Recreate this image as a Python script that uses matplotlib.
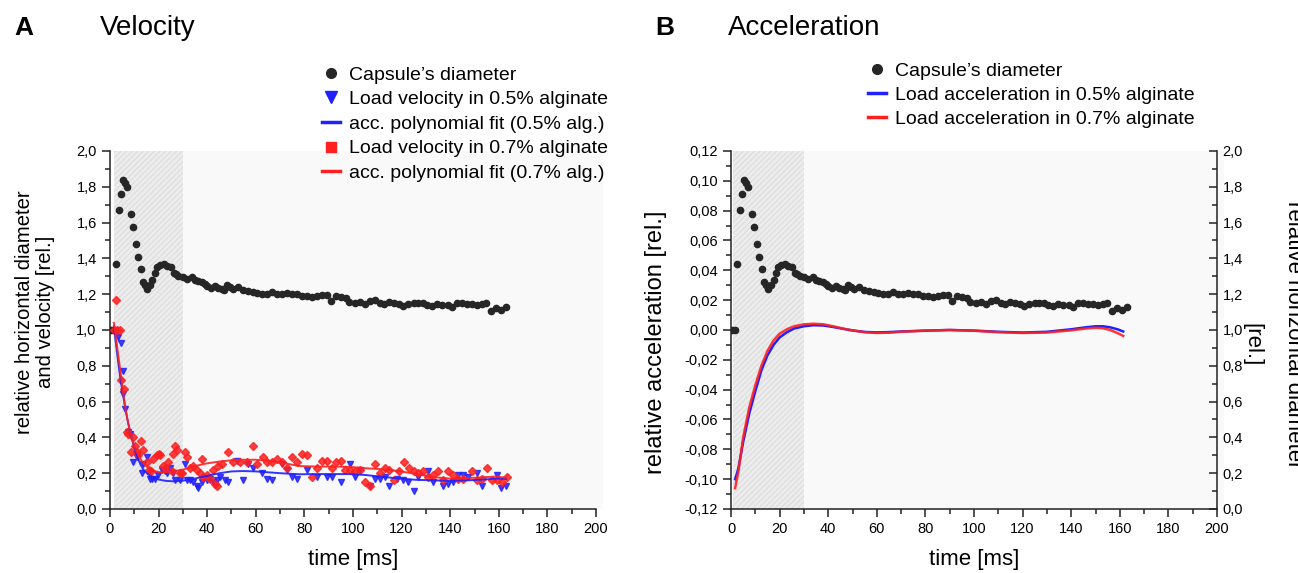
import matplotlib
matplotlib.use('Agg')
import matplotlib.pyplot as plt
from matplotlib.lines import Line2D
from matplotlib.ticker import FuncFormatter, MultipleLocator

plt.rcParams['font.family'] = ['Liberation Sans', 'DejaVu Sans']
plt.rcParams['hatch.linewidth'] = 0.6

# ---- data ----
diam_t = [0.5, 1.5, 2.5, 3.7, 4.5, 5.5, 6.2, 6.9, 8.6, 9.6,
          10.7, 11.7, 12.6, 13.7, 14.5, 15.4, 16.4, 17.5, 18.5, 19.5,
          20.5, 22.2, 23.6, 25.0, 26.3, 27.2, 28.2,
          30.2, 31.8, 33.6, 35.0, 36.3, 37.7, 39.1, 40.0, 41.4, 43.2,
          44.6, 45.9, 46.9, 48.0, 49.4, 50.7, 52.7, 54.9, 56.9, 58.7,
          60.6, 62.4, 64.5, 66.5, 68.6, 70.6, 72.7, 74.8, 76.8, 78.9,
          80.9, 83.0, 85.0, 87.1, 89.2, 90.9, 93.0, 94.9, 97.1, 98.5,
          100.8, 102.9, 104.9, 107.0, 109.1, 111.1, 112.8, 115.0, 116.9, 118.8,
          120.7, 122.8, 124.9, 126.9, 129.0, 130.6, 132.7, 134.7, 136.8, 138.9,
          140.9, 142.7, 144.7, 146.8, 148.8, 150.9, 153.0, 154.7, 156.7, 158.9,
          160.9, 163.0]
diameter = [1.0, 1.0, 1.37, 1.67, 1.76, 1.84, 1.82, 1.80, 1.65, 1.575,
            1.48, 1.41, 1.34, 1.27, 1.25, 1.23, 1.25, 1.28, 1.32, 1.35,
            1.365, 1.37, 1.36, 1.35, 1.32, 1.31, 1.30,
            1.294, 1.283, 1.294, 1.279, 1.275, 1.270, 1.257, 1.246, 1.236, 1.246,
            1.236, 1.227, 1.223, 1.251, 1.242, 1.229, 1.242, 1.223, 1.220, 1.214,
            1.205, 1.201, 1.201, 1.212, 1.203, 1.199, 1.205, 1.199, 1.199, 1.188,
            1.192, 1.186, 1.192, 1.194, 1.194, 1.164, 1.190, 1.184, 1.179, 1.158,
            1.153, 1.158, 1.143, 1.164, 1.168, 1.153, 1.145, 1.158, 1.153, 1.145,
            1.134, 1.145, 1.149, 1.149, 1.149, 1.140, 1.134, 1.145, 1.140, 1.140,
            1.127, 1.149, 1.149, 1.145, 1.143, 1.140, 1.145, 1.153, 1.108, 1.125,
            1.112, 1.127]

vel05_t = [3.4, 4.4, 5.2, 5.5, 6.2, 7.5, 8.2, 9.6, 11.0, 13.0,
           13.7, 15.1, 16.5, 17.4, 18.5, 19.9, 21.3, 22.6, 23.3, 24.7,
           25.8, 26.7, 28.8, 30.9, 31.6, 32.9, 34.3, 35.7, 36.4, 37.7,
           39.8, 41.2, 42.5, 43.9, 45.3, 47.3, 48.7, 52.1, 54.9, 56.9,
           59.0, 62.4, 64.5, 66.5, 70.6, 72.7, 74.8, 76.8,
           80.9, 85.0, 89.2, 91.2, 94.9, 98.8, 100.8, 102.9, 107.0, 109.1,
           111.1, 113.2, 115.0, 118.0, 120.7, 122.8, 124.9, 126.9, 131.0, 133.1,
           136.9, 139.2, 141.3, 143.4, 145.4, 147.5, 150.9, 153.0, 159.1, 160.9,
           163.0]
vel05 = [0.96, 0.93, 0.77, 0.64, 0.56, 0.43, 0.42, 0.26, 0.29, 0.20,
         0.25, 0.29, 0.17, 0.17, 0.17, 0.19, 0.22, 0.21, 0.20, 0.23,
         0.20, 0.16, 0.16, 0.25, 0.16, 0.16, 0.15, 0.13, 0.12, 0.15,
         0.16, 0.17, 0.15, 0.16, 0.18, 0.16, 0.15, 0.27, 0.16, 0.25,
         0.23, 0.20, 0.17, 0.16, 0.25, 0.22, 0.18, 0.17,
         0.22, 0.18, 0.18, 0.18, 0.15, 0.25, 0.18, 0.22, 0.13, 0.17,
         0.17, 0.18, 0.13, 0.17, 0.16, 0.15, 0.10, 0.18, 0.21, 0.15,
         0.13, 0.14, 0.15, 0.19, 0.19, 0.18, 0.20, 0.13, 0.19, 0.12,
         0.13]

vel07_t = [1.6, 2.5, 3.0, 4.1, 4.4, 5.8, 6.9, 7.5, 8.6, 9.3,
           10.3, 11.0, 11.7, 12.8, 13.4, 15.1, 16.2, 16.7, 17.8, 19.2,
           20.3, 20.8, 21.7, 22.6, 24.0, 25.4, 26.1, 26.7, 27.4, 28.8,
           29.5, 30.9, 31.8, 32.9, 34.3, 35.7, 37.0, 37.7, 38.4, 39.8,
           41.2, 42.5, 43.2, 43.9, 44.6, 45.9, 48.7, 50.7, 53.5, 56.2,
           58.7, 60.4, 62.8, 64.5, 66.5, 68.6, 70.6, 72.7, 74.8, 76.8,
           78.9, 80.9, 83.0, 85.0, 87.1, 89.2, 91.2, 93.0, 94.9, 96.7,
           98.8, 100.8, 102.9, 104.9, 107.0, 109.1, 111.1, 113.2, 115.0, 116.9,
           119.1, 121.0, 123.2, 124.9, 126.9, 129.0, 131.0, 133.1, 135.1, 137.2,
           139.2, 141.3, 143.4, 145.4, 148.8, 150.9, 153.0, 155.0, 157.1, 159.1,
           161.2, 163.3]
vel07 = [1.0, 1.17, 1.0, 1.0, 0.72, 0.67, 0.43, 0.42, 0.32, 0.40,
         0.35, 0.32, 0.30, 0.38, 0.33, 0.26, 0.22, 0.21, 0.28, 0.30,
         0.31, 0.30, 0.24, 0.23, 0.26, 0.21, 0.31, 0.35, 0.33, 0.20,
         0.20, 0.32, 0.29, 0.23, 0.24, 0.22, 0.20, 0.28, 0.18, 0.19,
         0.17, 0.22, 0.14, 0.13, 0.24, 0.25, 0.32, 0.26, 0.26, 0.26,
         0.35, 0.25, 0.29, 0.26, 0.26, 0.28, 0.26, 0.23, 0.29, 0.26,
         0.31, 0.30, 0.18, 0.23, 0.27, 0.27, 0.23, 0.26, 0.27, 0.22,
         0.22, 0.21, 0.22, 0.15, 0.13, 0.25, 0.20, 0.23, 0.22, 0.16,
         0.21, 0.26, 0.23, 0.21, 0.20, 0.21, 0.18, 0.19, 0.21, 0.16,
         0.21, 0.19, 0.17, 0.17, 0.21, 0.16, 0.17, 0.23, 0.16, 0.16,
         0.15, 0.18]

fit_t = [1.6, 2.5, 3.5, 4.5, 5.5, 6.5, 7.5, 8.5, 9.5, 11,
         12.5, 14, 16, 18, 20, 23, 26, 30, 35, 40,
         45, 50, 55, 60, 65, 70, 78, 85, 92, 99,
         105, 112, 119, 126, 133, 140, 147, 154, 159, 163]
fit05 = [1.02, 0.92, 0.81, 0.71, 0.63, 0.55, 0.48, 0.42, 0.37, 0.30,
         0.25, 0.215, 0.19, 0.175, 0.165, 0.157, 0.155, 0.158, 0.17, 0.185,
         0.20, 0.21, 0.212, 0.21, 0.205, 0.20, 0.194, 0.195, 0.195, 0.195,
         0.19, 0.18, 0.17, 0.163, 0.16, 0.158, 0.16, 0.165, 0.17, 0.168]
fit07 = [1.04, 0.95, 0.85, 0.75, 0.64, 0.55, 0.48, 0.42, 0.37, 0.32,
         0.28, 0.25, 0.228, 0.213, 0.206, 0.205, 0.21, 0.22, 0.24, 0.255,
         0.265, 0.272, 0.275, 0.275, 0.27, 0.26, 0.24, 0.237, 0.237, 0.235,
         0.228, 0.222, 0.212, 0.195, 0.178, 0.17, 0.172, 0.178, 0.181, 0.175]

acc_t = [1.7, 3, 5, 7.5, 10, 12.5, 15, 17.5, 20, 23,
         26, 30, 34, 38, 42, 46, 50, 55, 60, 65,
         70, 80, 90, 100, 110, 120, 130, 140, 146, 150,
         153, 156, 159, 161.4]
acc05 = [-0.100, -0.093, -0.075, -0.056, -0.041, -0.027, -0.017, -0.010, -0.005, -0.0015,
         0.001, 0.0025, 0.0032, 0.003, 0.002, 0.0008, -0.0003, -0.0013, -0.0016, -0.0014,
         -0.0010, -0.0004, 0.0, -0.0004, -0.0012, -0.0017, -0.0012, 0.0005, 0.0018, 0.0025,
         0.0025, 0.0018, 0.0005, -0.001]
acc07 = [-0.106, -0.095, -0.072, -0.052, -0.037, -0.024, -0.014, -0.007, -0.0025, 0.0005,
         0.0025, 0.0038, 0.0042, 0.0038, 0.0025, 0.001, -0.0003, -0.0015, -0.002, -0.0018,
         -0.0012, -0.0005, 0.0, -0.0005, -0.0015, -0.002, -0.0017, -0.0002, 0.0010, 0.0015,
         0.0012, 0.0, -0.002, -0.004]

c_dot = '#262626'
c_blue = '#2020ff'
c_red = '#ff2020'


def comma_fmt(nd):
    def f(v, pos):
        if abs(v) < 1e-9:
            v = 0.0
        return ('{:.%df}' % nd).format(v).replace('.', ',')
    return FuncFormatter(f)


def style_axes(ax, right=False):
    for side in ('top', 'right'):
        ax.spines[side].set_visible(False)
    for sp in ax.spines.values():
        sp.set_linewidth(1.1)
        sp.set_color('#222222')
    ax.tick_params(which='major', direction='out', length=6, width=1.1,
                   labelsize=10.5, color='#222222')
    ax.tick_params(which='minor', direction='out', length=3.5, width=1.1,
                   color='#222222')
    ax.set_xlim(0, 200)
    ax.xaxis.set_major_locator(MultipleLocator(20))
    ax.xaxis.set_minor_locator(MultipleLocator(10))
    ax.xaxis.set_major_formatter(comma_fmt(0))
    ax.set_facecolor('none')


def background(ax, x0):
    ax.axvspan(x0, 203, facecolor='#f9f9f9', edgecolor='none', zorder=0,
               clip_on=False)
    ax.axvspan(x0, 30, facecolor='#ececec', edgecolor='#d9d9d9', hatch='//////',
               linewidth=0, zorder=0.5)


fig = plt.figure(figsize=(12.98, 5.73), dpi=100)

# ---- panel A ----
axA = fig.add_axes([0.0847, 0.1117, 0.3745, 0.6248])
style_axes(axA)
background(axA, 1.5)
axA.set_ylim(0, 2.0)
axA.yaxis.set_major_locator(MultipleLocator(0.2))
axA.yaxis.set_minor_locator(MultipleLocator(0.1))
axA.yaxis.set_major_formatter(comma_fmt(1))

axA.plot(diam_t, diameter, ls='none', marker='o', ms=4.5, color=c_dot, zorder=3)
axA.plot(vel05_t, vel05, ls='none', marker='v', ms=5, color=c_blue, alpha=0.85,
         zorder=3)
axA.plot(vel07_t, vel07, ls='none', marker='D', ms=4, color=c_red, alpha=0.85,
         zorder=3)
axA.plot(fit_t, fit05, color=c_blue, lw=1.4, alpha=0.9, zorder=4)
axA.plot(fit_t, fit07, color=c_red, lw=1.4, alpha=0.9, zorder=4)
axA.set_xlabel('time [ms]', fontsize=16, labelpad=9)

# ---- panel B ----
axB = fig.add_axes([0.5632, 0.1117, 0.3744, 0.6248])
style_axes(axB)
background(axB, 0.8)
axB.set_ylim(-0.12, 0.12)
axB.yaxis.set_major_locator(MultipleLocator(0.02))
axB.yaxis.set_minor_locator(MultipleLocator(0.01))
axB.yaxis.set_major_formatter(comma_fmt(2))
axB.plot(acc_t, acc05, color=c_blue, lw=1.8, zorder=4)
axB.plot(acc_t, acc07, color=c_red, lw=1.8, alpha=0.9, zorder=4)
axB.set_xlabel('time [ms]', fontsize=16, labelpad=9)

# diameter on a right-hand axis, ticks pointing inward
axB2 = axB.twinx()
axB2.set_ylim(0, 2.0)
axB2.yaxis.set_major_locator(MultipleLocator(0.2))
axB2.yaxis.set_minor_locator(MultipleLocator(0.1))
axB2.yaxis.set_major_formatter(comma_fmt(1))
for side in ('top', 'left', 'bottom'):
    axB2.spines[side].set_visible(False)
axB2.spines['right'].set_linewidth(1.1)
axB2.spines['right'].set_color('#222222')
axB2.tick_params(which='major', direction='in', length=6, width=1.1,
                 labelsize=10.5, pad=4, color='#222222')
axB2.tick_params(which='minor', direction='in', length=3.5, width=1.1,
                 color='#222222')
axB2.plot(diam_t, diameter, ls='none', marker='o', ms=4.5, color=c_dot, zorder=3)

# ---- labels and titles ----
fig.text(0.0108, 0.951, 'A', fontsize=19, fontweight='bold', va='center')
fig.text(0.077, 0.951, 'Velocity', fontsize=20, va='center')
fig.text(0.5046, 0.951, 'B', fontsize=19, fontweight='bold', va='center')
fig.text(0.561, 0.951, 'Acceleration', fontsize=20, va='center')

fig.text(35 / 1298, 1 - 312 / 573,
         'relative horizontal diameter\nand velocity [rel.]',
         rotation=90, ha='center', va='center', multialignment='center',
         fontsize=14.6, linespacing=1.15)
fig.text(656 / 1298, 1 - 342 / 573, 'relative acceleration [rel.]',
         rotation=90, ha='center', va='center', fontsize=17)
fig.text(1294 / 1298, 1 - 335 / 573, 'relative horizontal diameter',
         rotation=270, ha='center', va='center', fontsize=16)
fig.text(1252 / 1298, 1 - 345 / 573, '[rel.]',
         rotation=270, ha='center', va='center', fontsize=16)

# ---- legends ----
hA = [Line2D([], [], ls='none', marker='o', ms=7, color=c_dot),
      Line2D([], [], ls='none', marker='v', ms=8, color=c_blue),
      Line2D([], [], color=c_blue, lw=2.5),
      Line2D([], [], ls='none', marker='s', ms=7, color=c_red),
      Line2D([], [], color=c_red, lw=2.5)]
lA = ["Capsule\u2019s diameter", 'Load velocity in 0.5% alginate',
      'acc. polynomial fit (0.5% alg.)', 'Load velocity in 0.7% alginate',
      'acc. polynomial fit (0.7% alg.)']
fig.legend(hA, lA, loc='upper left', bbox_to_anchor=(322 / 1298, 1 - 66 / 573),
           frameon=False, fontsize=14, handlelength=0.9, handletextpad=0.5,
           labelspacing=0.36, borderpad=0, borderaxespad=0)

hB = [Line2D([], [], ls='none', marker='o', ms=7, color=c_dot),
      Line2D([], [], color=c_blue, lw=2.5),
      Line2D([], [], color=c_red, lw=2.5)]
lB = ["Capsule\u2019s diameter", 'Load acceleration in 0.5% alginate',
      'Load acceleration in 0.7% alginate']
fig.legend(hB, lB, loc='upper left', bbox_to_anchor=(868 / 1298, 1 - 62 / 573),
           frameon=False, fontsize=14, handlelength=0.9, handletextpad=0.5,
           labelspacing=0.33, borderpad=0, borderaxespad=0)

fig.savefig('out.png', dpi=100, facecolor='white')
plt.close(fig)
